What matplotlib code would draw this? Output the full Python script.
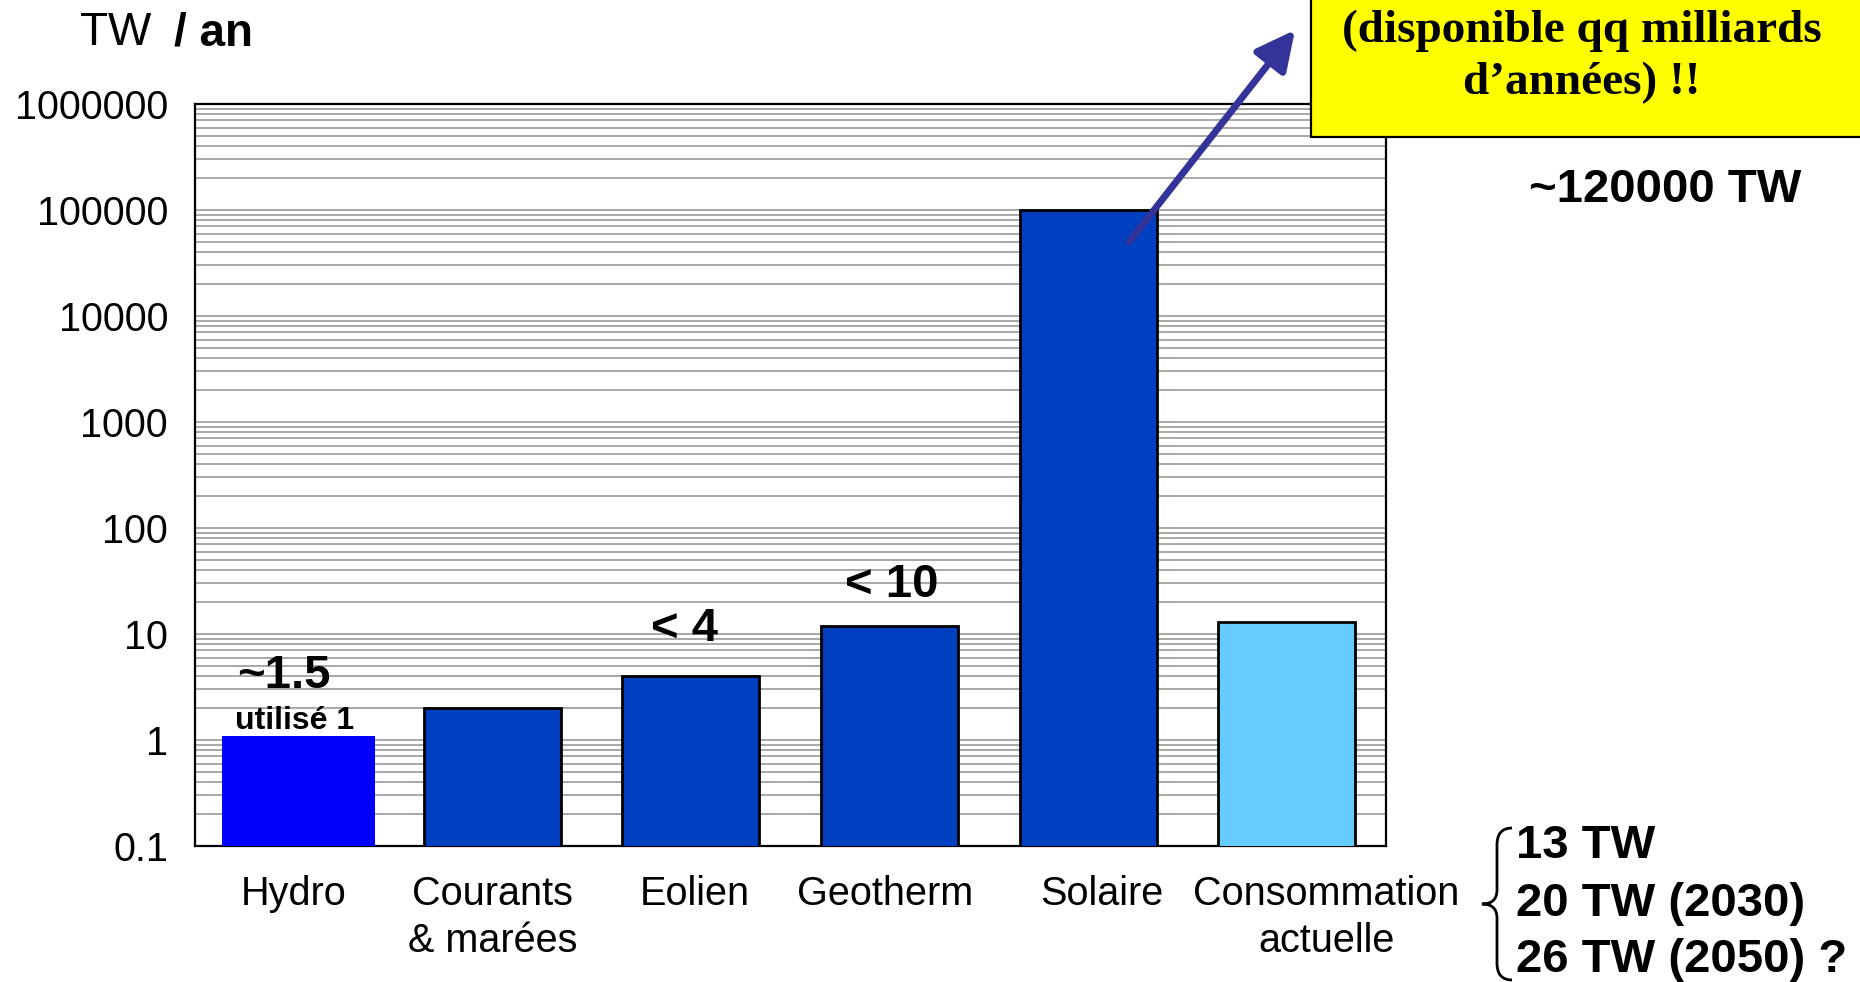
import numpy as np
import matplotlib.pyplot as plt
from matplotlib.ticker import LogLocator, NullFormatter
from matplotlib.patches import Rectangle, FancyArrowPatch, PathPatch
from matplotlib.path import Path

plt.rcParams['font.family'] = ['Liberation Sans', 'DejaVu Sans']

categories = ['Hydro', 'Courants\n& marées', 'Eolien', 'Geotherm', 'Solaire', 'Consommation\nactuelle']
values = [1.1, 2.0, 4.0, 12.0, 100000, 13]
bar_colors = ['#0000FF', '#0040C0', '#0040C0', '#0040C0', '#0040C0', '#66CCFF']
ytick_values = [0.1, 1, 10, 100, 1000, 10000, 100000, 1000000]
ytick_labels = ['0.1', '1', '10', '100', '1000', '10000', '100000', '1000000']
bar_notes = ['~1.5', '', '< 4', '< 10', '', '']
hydro_used = 'utilisé 1'
solar_note = '~120000 TW'
demand_lines = ['13 TW', '20 TW (2030)', '26 TW (2050) ?']
box_text = '(disponible qq milliards\nd\u2019années) !!'

W, H = 1860, 982
fig = plt.figure(figsize=(W / 100, H / 100), dpi=100)


def fpos(px, py):
    # pixel position (y from top) -> figure fraction
    return px / W, 1 - py / H


ax = fig.add_axes([194.5 / W, 1 - 846 / H, (1386 - 194.5) / W, (846 - 104) / H])
ax.set_yscale('log')
x = np.arange(len(categories))
bar_x = x + np.array([0.025, 0, 0, 0, 0, 0])
widths = [0.77] + [0.69] * 5
edges = ['none'] + ['black'] * 5
ax.bar(bar_x, values, width=widths, color=bar_colors, edgecolor=edges, linewidth=2, zorder=3)

ax.set_ylim(0.1, 1000000)
ax.set_xlim(-0.5, len(categories) - 0.5)
ax.yaxis.set_minor_locator(LogLocator(base=10, subs=range(2, 10)))
ax.yaxis.set_minor_formatter(NullFormatter())
ax.set_yticks(ytick_values, ytick_labels)
ax.yaxis.grid(True, which='both', color='#9a9a9a', linewidth=1.2)
ax.set_axisbelow(True)
ax.tick_params(axis='y', which='both', length=0, pad=19, labelsize=28.5)

shifts = [0, 0, 0.02, -0.02, 0.07, 0.2]
ax.set_xticks(x + np.array(shifts), categories)
ax.tick_params(axis='x', length=0, pad=21, labelsize=28.5)
for lbl in ax.get_xticklabels():
    lbl.set_linespacing(1.3)
for s in ax.spines.values():
    s.set_linewidth(1.6)
    s.set_color('black')

# notes above bars
offsets = [(-11, 43), (0, 0), (-5, 34), (1.5, 29.5), (0, 0), (0, 0)]
for i, note in enumerate(bar_notes):
    if note:
        ax.annotate(note, (bar_x[i], values[i]), xytext=offsets[i], textcoords='offset points',
                    ha='center', va='center', fontsize=34, fontweight='bold', zorder=5)
ax.annotate(hydro_used, (bar_x[0], values[0]), xytext=(-3, 10.5), textcoords='offset points',
            ha='center', va='center', fontsize=23, fontweight='bold', zorder=5)

# unit label
fig.text(*fpos(80, 33), 'TW', fontsize=33, ha='left', va='center')
fig.text(*fpos(174, 33), '/ an', fontsize=33, fontweight='bold', ha='left', va='center')

# solar total
fig.text(*fpos(1665, 190), solar_note, fontsize=34, fontweight='bold', ha='center', va='center')

# yellow box
bx, by = fpos(1311, 137)
fig.add_artist(Rectangle((bx, by), 1.1 - bx, 0.5, transform=fig.transFigure,
                         facecolor='#FFFF00', edgecolor='black', linewidth=1.6, zorder=4))
fig.text(*fpos(1582, 57), box_text, fontsize=34, fontweight='bold', family='Liberation Serif',
         ha='center', va='center', linespacing=1.3, zorder=5)

# arrow from solar bar to box
arrow = FancyArrowPatch(fpos(1129, 242), fpos(1295, 30), transform=fig.transFigure,
                        arrowstyle='-|>,head_length=0.7,head_width=0.35', mutation_scale=34,
                        color='#333399', linewidth=5, shrinkA=0, shrinkB=0, zorder=6)
fig.add_artist(arrow)

# brace + future demand
pts = [(1512, 828), (1497, 828), (1497, 845), (1497, 890), (1497, 904), (1482, 904),
       (1497, 904), (1497, 918), (1497, 963), (1497, 980), (1512, 980)]
codes = [Path.MOVETO, Path.CURVE3, Path.CURVE3, Path.LINETO, Path.CURVE3, Path.CURVE3,
         Path.CURVE3, Path.CURVE3, Path.LINETO, Path.CURVE3, Path.CURVE3]
brace = Path([fpos(px, py) for px, py in pts], codes)
fig.add_artist(PathPatch(brace, transform=fig.transFigure, facecolor='none',
                         edgecolor='black', linewidth=2))
for line, py in zip(demand_lines, [846, 904, 960]):
    fig.text(*fpos(1516, py), line, fontsize=34, fontweight='bold', ha='left', va='center')

fig.savefig('out.png', dpi=100)
